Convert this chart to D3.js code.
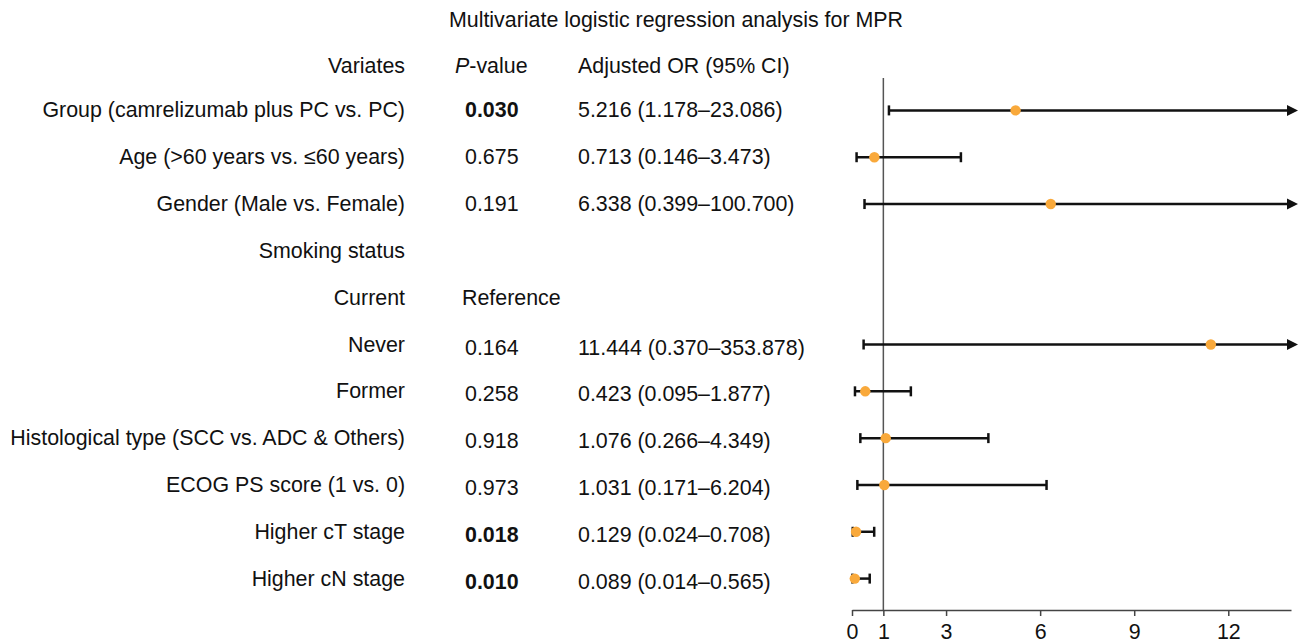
<!DOCTYPE html>
<html lang="en">
  <head>
    <meta charset="UTF-8">
    <title>Multivariate logistic regression analysis for MPR</title>
    <script src="https://d3js.org/d3.v7.min.js"></script>
    <style>
      body { margin: 0; background: white; }
      text { font-family: "Liberation Sans", Arial, sans-serif; fill: #111; }
    </style>
  </head>
  <body>
    <script>
      const w = 1298;
      const h = 643;
      const fs = "21.4px";

      // table rows
      const variates = ["Group (camrelizumab plus PC vs. PC)", "Age (>60 years vs. \u226460 years)",
        "Gender (Male vs. Female)", "Smoking status", "Current", "Never", "Former",
        "Histological type (SCC vs. ADC & Others)", "ECOG PS score (1 vs. 0)",
        "Higher cT stage", "Higher cN stage"];
      const pValues = ["0.030", "0.675", "0.191", "", "Reference", "0.164", "0.258",
        "0.918", "0.973", "0.018", "0.010"];
      const significant = [true, false, false, false, false, false, false, false, false, true, true];
      const orLabels = ["5.216 (1.178\u201323.086)", "0.713 (0.146\u20133.473)", "6.338 (0.399\u2013100.700)",
        "", "", "11.444 (0.370\u2013353.878)", "0.423 (0.095\u20131.877)", "1.076 (0.266\u20134.349)",
        "1.031 (0.171\u20136.204)", "0.129 (0.024\u20130.708)", "0.089 (0.014\u20130.565)"];
      const orValues = [5.216, 0.713, 6.338, null, null, 11.444, 0.423, 1.076, 1.031, 0.129, 0.089];
      const lowerCI = [1.178, 0.146, 0.399, null, null, 0.370, 0.095, 0.266, 0.171, 0.024, 0.014];
      const upperCI = [23.086, 3.473, 100.700, null, null, 353.878, 1.877, 4.349, 6.204, 0.708, 0.565];
      const tickValues = [0, 1, 3, 6, 9, 12];

      const svg = d3.select("body").append("svg")
                    .attr("width", w)
                    .attr("height", h);

      const xScale = d3.scaleLinear().domain([0, 14]).range([852, 1291]);
      const yScale = d3.scaleBand().domain(d3.range(variates.length)).range([87, 602]);
      const yc = (i) => yScale(i) + yScale.bandwidth() / 2;

      svg.append("text")
         .attr("x", 676).attr("y", 27)
         .attr("text-anchor", "middle")
         .style("font-size", fs)
         .text("Multivariate logistic regression analysis for MPR");

      // headers
      svg.append("text").attr("x", 405).attr("y", 73).attr("text-anchor", "end")
         .style("font-size", fs).text("Variates");
      const ph = svg.append("text").attr("x", 455).attr("y", 73).style("font-size", fs);
      ph.append("tspan").style("font-style", "italic").text("P");
      ph.append("tspan").text("-value");
      svg.append("text").attr("x", 578).attr("y", 73)
         .style("font-size", fs).text("Adjusted OR (95% CI)");

      svg.selectAll(".var").data(variates).enter().append("text")
         .attr("class", "var")
         .attr("x", 405).attr("y", (d, i) => yc(i) + 7)
         .attr("text-anchor", "end")
         .style("font-size", fs)
         .text(d => d);

      svg.selectAll(".pv").data(pValues).enter().append("text")
         .attr("class", "pv")
         .attr("x", (d, i) => d === "Reference" ? 462 : 465)
         .attr("y", (d, i) => yc(i) + (i >= 5 ? 10 : 7))
         .style("font-size", fs)
         .style("font-weight", (d, i) => significant[i] ? "bold" : "normal")
         .text(d => d);

      svg.selectAll(".or").data(orLabels).enter().append("text")
         .attr("class", "or")
         .attr("x", 578).attr("y", (d, i) => yc(i) + (i >= 5 ? 10 : 7))
         .style("font-size", fs)
         .text(d => d);

      // axis
      const axis = svg.append("g")
         .attr("transform", "translate(0,610)")
         .call(d3.axisBottom(xScale).tickValues(tickValues).tickSize(6).tickSizeOuter(0).tickPadding(8));
      axis.select(".domain").attr("stroke", "#444").attr("stroke-width", 1.5);
      axis.selectAll(".tick line").attr("stroke", "#444").attr("stroke-width", 1.5);
      axis.selectAll(".tick text").style("font-size", fs)
          .style("font-family", "'Liberation Sans', Arial, sans-serif").attr("fill", "#111");

      // reference line at OR = 1
      svg.append("line")
         .attr("x1", xScale(1)).attr("x2", xScale(1))
         .attr("y1", 78).attr("y2", 610)
         .attr("stroke", "#555").attr("stroke-width", 1.5);

      const rows = d3.range(variates.length).filter(i => orValues[i] !== null);
      const xMax = xScale.domain()[1];

      const bars = svg.selectAll(".ci").data(rows).enter().append("g").attr("class", "ci");

      bars.append("line")
          .attr("x1", i => xScale(lowerCI[i]))
          .attr("x2", i => upperCI[i] > xMax ? xScale(xMax) : xScale(upperCI[i]))
          .attr("y1", i => yc(i)).attr("y2", i => yc(i))
          .attr("stroke", "#111").attr("stroke-width", 2.5);

      bars.append("line")
          .attr("x1", i => xScale(lowerCI[i])).attr("x2", i => xScale(lowerCI[i]))
          .attr("y1", i => yc(i) - 5).attr("y2", i => yc(i) + 5)
          .attr("stroke", "#111").attr("stroke-width", 2.5);

      bars.filter(i => upperCI[i] <= xMax).append("line")
          .attr("x1", i => xScale(upperCI[i])).attr("x2", i => xScale(upperCI[i]))
          .attr("y1", i => yc(i) - 5).attr("y2", i => yc(i) + 5)
          .attr("stroke", "#111").attr("stroke-width", 2.5);

      bars.filter(i => upperCI[i] > xMax).append("path")
          .attr("d", i => {
            const x = xScale(xMax) - 4, y = yc(i);
            return `M${x},${y - 5.5}L${x + 11},${y}L${x},${y + 5.5}Z`;
          })
          .attr("fill", "#111");

      bars.append("circle")
          .attr("cx", i => xScale(orValues[i]))
          .attr("cy", i => yc(i))
          .attr("r", 5.2)
          .attr("fill", "#F9A93B");
    </script>
  </body>
</html>
